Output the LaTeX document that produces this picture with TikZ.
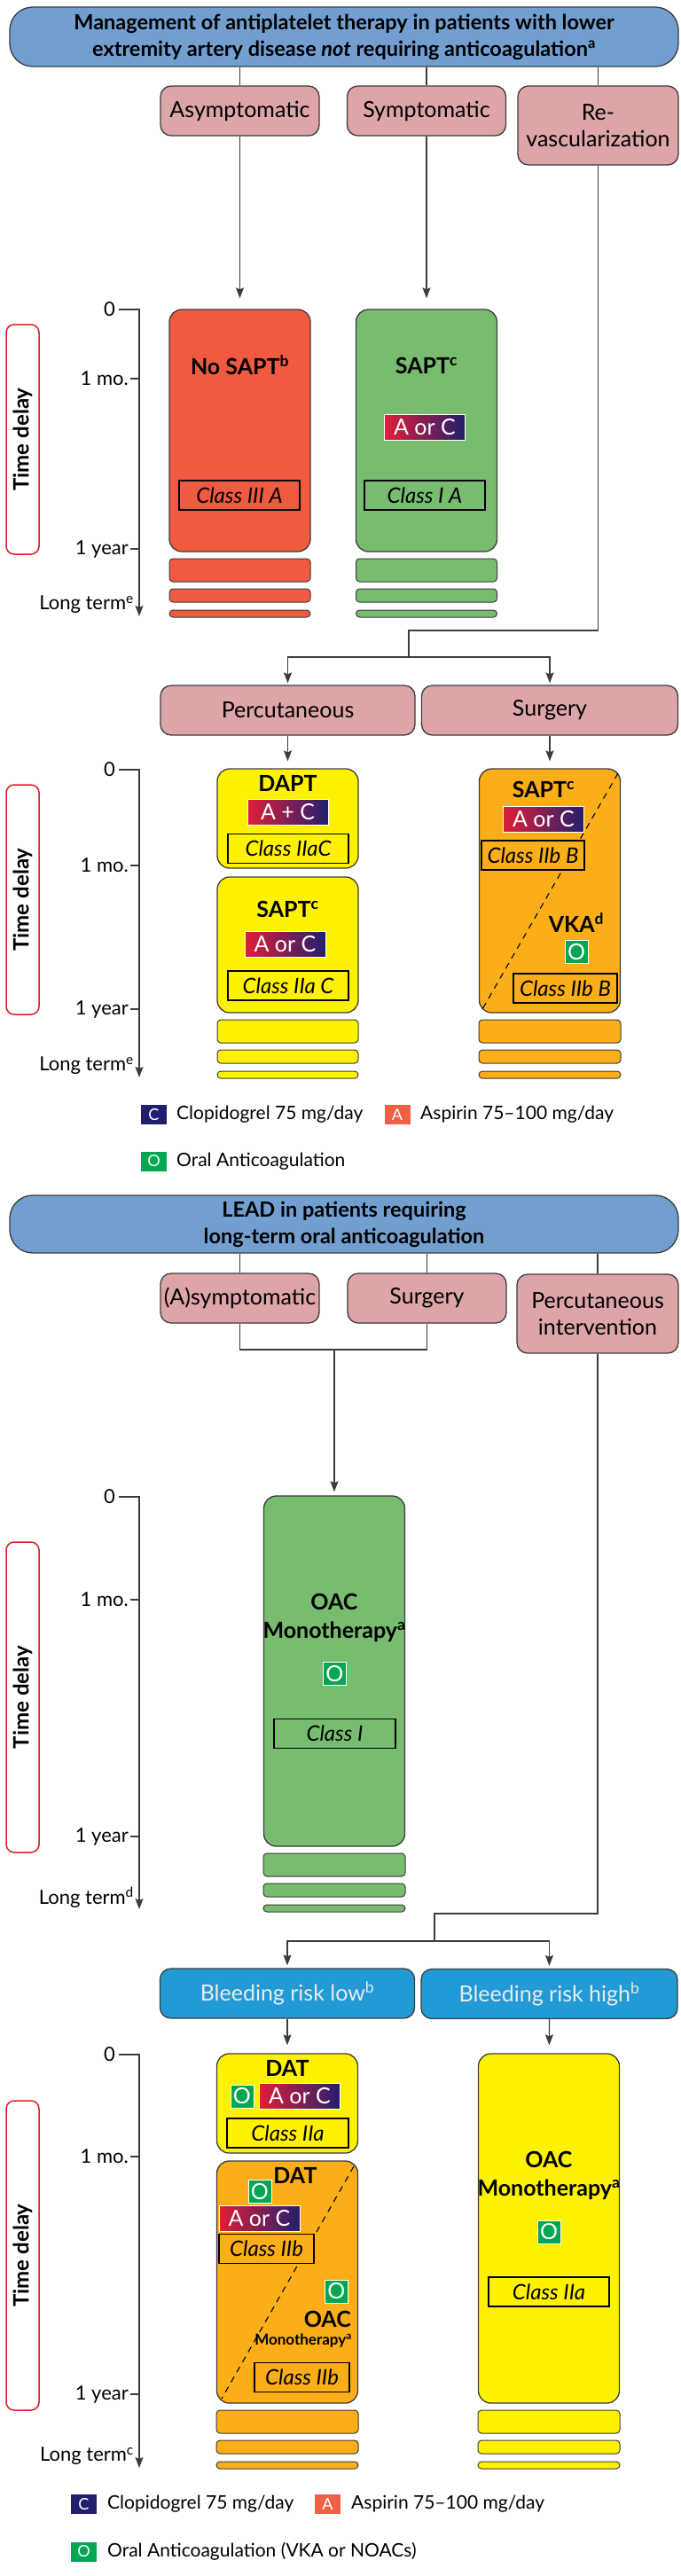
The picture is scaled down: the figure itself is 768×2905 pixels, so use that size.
\documentclass[tikz,border=0pt]{standalone}
\usepackage{fontspec}
\setmainfont{Lato}
\usetikzlibrary{arrows.meta}

\definecolor{headblue}{RGB}{114,159,208}
\definecolor{pinkbox}{RGB}{221,165,168}
\definecolor{redbox}{RGB}{240,90,64}
\definecolor{greenbox}{RGB}{120,188,111}
\definecolor{yellowbox}{RGB}{255,242,0}
\definecolor{orangebox}{RGB}{251,174,23}
\definecolor{bleedblue}{RGB}{34,154,214}
\definecolor{drugred}{RGB}{225,30,55}
\definecolor{drugnavy}{RGB}{35,31,110}
\definecolor{oacgreen}{RGB}{0,166,81}
\definecolor{asaorange}{RGB}{240,96,70}
\definecolor{axisred}{RGB}{220,30,40}
\definecolor{linegray}{RGB}{60,60,60}

\newcommand\fsmain{\fontsize{25}{30}\selectfont}
\newcommand\fstick{\fontsize{22}{26}\selectfont}
\newcommand\fshead{\fontsize{23.5}{30}\selectfont\bfseries}
\newcommand\fsdrug{\fontsize{25}{32}\selectfont\bfseries}
\newcommand\fsclass{\fontsize{24}{28}\selectfont\itshape}
\newcommand\fsdelay{\fontsize{24}{28}\selectfont\bfseries}
\newcommand\fslegend{\fontsize{21}{26}\selectfont}
\newcommand\fskey{\fontsize{18}{20}\selectfont}
\newcommand\fssmall{\fontsize{17}{20}\selectfont}

% time scale: id, 0, 1 mo., 1 year, end, footnote, box top, box bottom
\newcommand\timeaxis[8]{%
  \draw[axisline, ->] (134,#2) -- (157,#2) -- (157,#5);
  \draw[axisline] (147,#3) -- (157,#3);
  \draw[axisline] (147,#4) -- (157,#4);
  \node[ticklabel] (#1zero) at (130,#2) {0};
  \node[ticklabel] (#1mo) at (145,#3) {1 mo.};
  \node[ticklabel] (#1year) at (145,#4) {1 year};
  \node[ticklabel] (#1long) at (151,{#5-13}) {Long term\textsuperscript{#6}};
  \node[delaybox, rotate=90, minimum width={#8-#7}] (#1delay) at (25.5,{(#7+#8)/2}) {Time delay};
}
% long-term bars below a box: x left, x right, box bottom, colour
\newcommand\stripes[4]{%
  \foreach \a/\b in {8/34, 42/57, 66/74}
    \draw[stripe, fill=#4] (#1,{#3+\a}) rectangle (#2,{#3+\b});
}

\begin{document}
\begin{tikzpicture}[%
  x = 1pt, y = -1pt,
  >={Stealth[length=12pt, width=9pt, inset=2pt]},
  link/.style = {draw=linegray, line width=1.3pt},
  head/.style = {draw=linegray, line width=1.3pt, fill=headblue, rounded corners=26pt,
    minimum width=754pt, align=center, font=\fshead},
  choice/.style = {draw=linegray, line width=1.3pt, fill=pinkbox, rounded corners=12pt,
    minimum width=179pt, minimum height=56pt, inner sep=2pt, align=center, font=\fsmain},
  risk/.style = {choice, fill=bleedblue, text=white!92!black, minimum width=287pt},
  therapy/.style = {draw=linegray, line width=1.3pt, rounded corners=14pt, minimum width=159pt},
  drug/.style = {align=center, inner sep=0pt, font=\fsdrug},
  classbox/.style = {draw=black, line width=1.2pt, minimum height=33pt, inner sep=1pt,
    font=\fsclass},
  combo/.style = {draw=white, line width=0.8pt, text=white, left color=drugred,
    right color=drugnavy, minimum width=91pt, minimum height=29pt, inner sep=0pt, font=\fsmain},
  oac/.style = {draw=white, line width=0.8pt, fill=oacgreen, text=white,
    minimum width=26pt, minimum height=26pt, inner sep=0pt, font=\fsmain},
  key/.style = {minimum width=29pt, minimum height=22pt, inner sep=0pt, text=white, font=\fskey},
  keytext/.style = {anchor=west, inner sep=0pt, font=\fslegend},
  switch/.style = {draw=black, line width=1.1pt, dash pattern=on 7pt off 6pt},
  stripe/.style = {draw=linegray, line width=1pt, rounded corners=4pt},
  axisline/.style = {draw=linegray, line width=1.3pt},
  ticklabel/.style = {anchor=east, inner sep=0pt, font=\fstick},
  delaybox/.style = {draw=axisred, line width=1.5pt, rounded corners=9pt,
    minimum height=37pt, font=\fsdelay}]
  \useasboundingbox (0,0) rectangle (768,2905);

  % antiplatelet therapy, no anticoagulation
  \node[head, minimum height=67pt] (title1) at (388,41.5)
    {Management of antiplatelet therapy in patients with lower\\extremity artery disease \textit{not} requiring anticoagulation\textsuperscript{a}};
  \node[choice] (asym) at (270.5,125) {Asymptomatic};
  \node[choice] (sympt) at (481,125) {Symptomatic};
  \node[choice, minimum width=181pt, minimum height=89pt] (revasc) at (674.5,141.5) {Re-\\vascularization};
  \foreach \n in {asym, sympt, revasc}
    \draw[link] (title1.south -| \n) -- (\n);

  \timeaxis{ta}{349}{427}{619}{695}{e}{366}{625}
  \node[therapy, fill=redbox, minimum height=273pt] (nosapt) at (270.5,485.5) {};
  \node[drug] (nosaptname) at (270.5,412) {No SAPT\textsuperscript{b}};
  \node[classbox, minimum width=136pt] (nosaptclass) at (270,558.5) {Class III A};
  \node[therapy, fill=greenbox, minimum height=273pt] (sapt) at (481,485.5) {};
  \node[drug] (saptname) at (481,412) {SAPT\textsuperscript{c}};
  \node[combo] (saptdrug) at (479,482) {A or C};
  \node[classbox, minimum width=136pt] (saptclass) at (479,558.5) {Class I A};
  \stripes{191}{350}{622}{redbox}
  \stripes{401.5}{560.5}{622}{greenbox}
  \draw[link, ->, shorten >=12pt] (asym) -- (nosapt);
  \draw[link, ->, shorten >=12pt] (sympt) -- (sapt);

  % revascularization
  \node[choice, minimum width=287pt] (perc) at (324.5,801) {Percutaneous};
  \node[choice, minimum width=289pt] (surg) at (620,801) {Surgery};
  \coordinate (bend1) at (461,711);
  \coordinate (split1) at (461,741);
  \draw[link] (revasc) |- (bend1) -- (split1);
  \draw[link, ->, shorten >=2pt] (split1) -| (perc);
  \draw[link, ->, shorten >=2pt] (split1) -| (surg);

  \timeaxis{tb}{868}{976}{1138}{1215}{e}{885}{1144}
  \node[therapy, fill=yellowbox, minimum height=112pt] (dapt) at (324.5,923) {};
  \node[drug] (daptname) at (324.5,883) {DAPT};
  \node[combo] (daptdrug) at (324.5,916) {A + C};
  \node[classbox, minimum width=136pt] (daptclass) at (325,957) {Class IIaC};
  \node[therapy, fill=yellowbox, minimum height=153pt] (saptb) at (324.5,1065.5) {};
  \node[drug] (saptbname) at (324.5,1025) {SAPT\textsuperscript{c}};
  \node[combo] (saptbdrug) at (321.5,1064.5) {A or C};
  \node[classbox, minimum width=136pt] (saptbclass) at (325,1111.5) {Class IIa C};
  \node[therapy, fill=orangebox, minimum height=275pt] (surgt) at (620,1004.5) {};
  \draw[switch] (697,872) -- (544,1138);
  \node[drug] (surgtname) at (613,890) {SAPT\textsuperscript{c}};
  \node[combo] (surgtdrug) at (613,923.5) {A or C};
  \node[classbox, fill=orangebox, minimum width=116pt] (surgtclassa) at (601,964.5) {Class IIb B};
  \node[drug] (surgtvka) at (650,1040) {VKA\textsuperscript{d}};
  \node[oac] (surgtoac) at (650,1073.5) {O};
  \node[classbox, fill=orangebox, minimum width=117pt] (surgtclassb) at (637.5,1114.5) {Class IIb B};
  \stripes{245}{404}{1142}{yellowbox}
  \stripes{540}{700}{1142}{orangebox}
  \draw[link, ->, shorten >=8pt] (perc) -- (dapt);
  \draw[link, ->, shorten >=8pt] (surg) -- (surgt);

  \node[key, fill=drugnavy] (keyc) at (173.5,1257) {C};
  \node[keytext] (keyctext) at (199,1257) {Clopidogrel 75 mg/day};
  \node[key, fill=asaorange] (keya) at (448,1257) {A};
  \node[keytext] (keyatext) at (474,1257) {Aspirin 75--100 mg/day};
  \node[key, fill=oacgreen] (keyo) at (173.5,1309.5) {O};
  \node[keytext] (keyotext) at (199,1309.5) {Oral Anticoagulation};

  % long-term oral anticoagulation
  \node[head, minimum height=65pt] (title2) at (388,1380.5)
    {LEAD in patients requiring\\long-term oral anticoagulation};
  \node[choice] (asymb) at (270.5,1464) {(A)symptomatic};
  \node[choice] (surgb) at (481.5,1464) {Surgery};
  \node[choice, minimum width=182pt, minimum height=89pt] (percint) at (674,1481.5) {Percutaneous\\intervention};
  \foreach \n in {asymb, surgb, percint}
    \draw[link] (title2.south -| \n) -- (\n);
  \coordinate (merge) at (377,1522);
  \draw[link] (asymb) |- (merge) -| (surgb);

  \timeaxis{tc}{1688}{1804}{2071}{2153}{d}{1739}{2089}
  \node[therapy, fill=greenbox, minimum height=395pt] (oacmono) at (377,1884.5) {};
  \node[drug] (oacmononame) at (377,1824) {OAC\\Monotherapy\textsuperscript{a}};
  \node[oac] (oacmonodrug) at (377.5,1887.5) {O};
  \node[classbox, minimum width=137pt] (oacmonoclass) at (377.5,1955) {Class I};
  \stripes{297}{457}{2082}{greenbox}
  \draw[link, ->, shorten >=4pt] (merge) -- (oacmono);

  % bleeding risk
  \node[risk] (blow) at (324,2248) {Bleeding risk low\textsuperscript{b}};
  \node[risk, minimum width=289pt] (bhigh) at (619.5,2248.5) {Bleeding risk high\textsuperscript{b}};
  \coordinate (bend2) at (490,2158);
  \coordinate (split2) at (490,2189);
  \draw[link] (percint) |- (bend2) -- (split2);
  \draw[link, ->, shorten >=3pt] (split2) -| (blow);
  \draw[link, ->, shorten >=3pt] (split2) -| (bhigh);

  \timeaxis{td}{2317}{2432}{2700}{2783}{c}{2369}{2718}
  \node[therapy, fill=yellowbox, minimum height=112pt] (dat) at (324,2372) {};
  \node[drug] (datname) at (324,2332) {DAT};
  \node[oac] (datoac) at (273,2364) {O};
  \node[combo] (datdrug) at (338,2364) {A or C};
  \node[classbox, minimum width=137pt] (datclass) at (324.5,2405.5) {Class IIa};
  \node[therapy, fill=orangebox, minimum height=273pt] (datoact) at (324,2573.5) {};
  \draw[switch] (399,2443) -- (250,2705);
  \node[drug] (datoactname) at (333,2453) {DAT};
  \node[oac] (datoacta) at (293,2471.5) {O};
  \node[combo] (datoactdrug) at (292.5,2501.5) {A or C};
  \node[classbox, fill=orangebox, minimum width=107pt] (datoactclassa) at (300.5,2536) {Class IIb};
  \node[oac] (datoactb) at (379.5,2584) {O};
  \node[drug, anchor=east] (datoactoac) at (396,2615) {OAC};
  \node[drug, anchor=east, font=\fssmall\bfseries] (datoactmono) at (397,2640) {Monotherapy\textsuperscript{a}};
  \node[classbox, fill=orangebox, minimum width=107pt] (datoactclassb) at (340.5,2681) {Class IIb};
  \node[therapy, fill=yellowbox, minimum height=394pt] (oachigh) at (619,2513) {};
  \node[drug] (oachighname) at (619,2453) {OAC\\Monotherapy\textsuperscript{a}};
  \node[oac] (oachighdrug) at (619,2517) {O};
  \node[classbox, minimum width=136pt] (oachighclass) at (619,2584.5) {Class IIa};
  \stripes{244}{404}{2710}{orangebox}
  \stripes{539}{699}{2710}{yellowbox}
  \draw[link, ->, shorten >=9pt] (blow) -- (dat);
  \draw[link, ->, shorten >=9pt] (bhigh) -- (oachigh);

  \node[key, fill=drugnavy] (keyc2) at (94.5,2824) {C};
  \node[keytext] (keyc2text) at (121,2824) {Clopidogrel 75 mg/day};
  \node[key, fill=asaorange] (keya2) at (369.5,2824) {A};
  \node[keytext] (keya2text) at (396,2824) {Aspirin 75--100 mg/day};
  \node[key, fill=oacgreen] (keyo2) at (94.5,2877.5) {O};
  \node[keytext] (keyo2text) at (121,2877.5) {Oral Anticoagulation (VKA or NOACs)};
\end{tikzpicture}
\end{document}
